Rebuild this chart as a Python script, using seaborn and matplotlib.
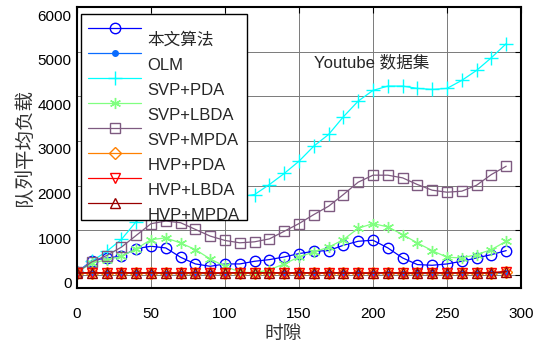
import matplotlib
matplotlib.use("Agg")
import matplotlib.pyplot as plt
import matplotlib.transforms as mtransforms
import seaborn as sns
import numpy as np

sns.set_style("white")
plt.rcParams['font.family'] = ['Liberation Sans', 'Noto Sans CJK SC', 'DejaVu Sans']

slots = list(range(0, 300, 10))

ours = [50, 315, 375, 412, 584, 637, 599, 390, 240, 187, 240, 240, 300, 337, 397, 472,
        524, 540, 659, 749, 772, 600, 375, 225, 210, 240, 300, 375, 449, 539]
olm = [40, 30, 30, 30, 30, 30, 25, 25, 25, 25, 25, 30, 30, 30, 30, 30,
       30, 30, 30, 30, 25, 25, 25, 25, 25, 25, 30, 30, 30, 30]
svp_pda = [50, 300, 520, 790, 1190, 1420, 1550, 1620, 1670, 1700, 1720, 1750, 1798, 2022, 2270, 2546,
           2884, 3146, 3543, 3895, 4135, 4232, 4232, 4180, 4157, 4180, 4360, 4584, 4869, 5184]
svp_lbda = [50, 260, 330, 411, 580, 786, 824, 711, 562, 352, 187, 60, 40, 110, 240, 397,
            510, 614, 786, 1040, 1146, 1071, 899, 711, 539, 390, 375, 449, 562, 749]
svp_mpda = [50, 286, 429, 617, 880, 1143, 1203, 1165, 1015, 865, 767, 714, 737, 802, 973, 1146,
            1348, 1535, 1798, 2075, 2232, 2232, 2172, 2022, 1895, 1850, 1873, 2007, 2247, 2434]
hvp_pda = [30, 35, 30, 35, 30, 35, 30, 30, 35, 30, 30, 35, 30, 35, 30, 35,
           30, 35, 30, 30, 30, 35, 30, 30, 35, 30, 35, 30, 35, 50]
hvp_lbda = [40, 45, 40, 45, 40, 45, 40, 40, 45, 40, 40, 45, 40, 45, 40, 45,
            40, 45, 40, 40, 40, 45, 40, 40, 45, 40, 45, 40, 45, 70]
hvp_mpda = [35, 40, 35, 40, 35, 40, 35, 35, 40, 35, 35, 40, 35, 40, 35, 40,
            35, 40, 35, 35, 35, 40, 35, 35, 40, 35, 40, 35, 40, 65]

series = [
    ("本文算法", ours, dict(color="#0000ff", marker="o", ms=7.5, mfc="none")),
    ("OLM", olm, dict(color="#0a6cff", marker="o", ms=4, mfc="#0a6cff")),
    ("SVP+PDA", svp_pda, dict(color="#00ffff", marker="+", ms=10, mfc="none")),
    ("SVP+LBDA", svp_lbda, dict(color="#80ff80", marker=(6, 2, 0), ms=8, mfc="none")),
    ("SVP+MPDA", svp_mpda, dict(color="#7e5a80", marker="s", ms=7.5, mfc="none")),
    ("HVP+PDA", hvp_pda, dict(color="#ff8000", marker="D", ms=6, mfc="none")),
    ("HVP+LBDA", hvp_lbda, dict(color="#ff0000", marker="v", ms=7.5, mfc="none")),
    ("HVP+MPDA", hvp_mpda, dict(color="#990000", marker="^", ms=7.5, mfc="none")),
]

fig = plt.figure(figsize=(5.41, 3.45), dpi=100)
ax = fig.add_axes([77/541, 57/345, 444/541, 280.7/345])

for name, vals, st in series:
    c = st["color"]
    sns.lineplot(x=slots, y=vals, ax=ax, label=name, color=c, lw=0.9,
                 marker=st["marker"], markersize=st["ms"], markerfacecolor=st["mfc"],
                 markeredgecolor=c, markeredgewidth=1.0)

ax.set_xlim(0, 300)
ax.set_ylim(-300, 6000)
ax.set_xticks(range(0, 301, 50))
ax.set_yticks(range(0, 6001, 1000))
ax.grid(True, color="#7a7a7a", lw=0.7)
ax.set_axisbelow(True)
for s in ax.spines.values():
    s.set_color("black")
    s.set_linewidth(1.5)
ax.tick_params(axis="both", direction="in", length=4, width=0.8, labelsize=11,
               right=True, top=True, colors="black")
ax.tick_params(axis="x", pad=14)
ax.tick_params(axis="y", pad=4)
offset = mtransforms.ScaledTranslation(0, -0.08, fig.dpi_scale_trans)
for lab in ax.get_yticklabels():
    lab.set_transform(lab.get_transform() + offset)

ax.set_xlabel("时隙", family=['Noto Sans CJK SC'], fontsize=13.5, color="#333333")
ax.xaxis.set_label_coords((283 - 77) / 444, (288 - 333) / 280.7)
ax.xaxis.label.set_va("center")
ax.set_ylabel("队列平均负载", family=['Noto Sans CJK SC'], fontsize=14, color="#333333", labelpad=2)

ax.text(160, 4760, "Youtube 数据集", fontsize=12, ha="left", va="center",
        family=['Liberation Sans', 'Noto Sans CJK SC'])

leg = ax.legend(loc="upper left", bbox_to_anchor=(0.008, 0.976), borderaxespad=0,
                fontsize=12, handlelength=3.2, handletextpad=0.35, labelspacing=0.6,
                borderpad=0.45, fancybox=False, framealpha=1, edgecolor="black")
leg.get_frame().set_linewidth(1.0)
for t in leg.get_texts():
    t.set_y(-11)

fig.savefig("out.png", dpi=100)
